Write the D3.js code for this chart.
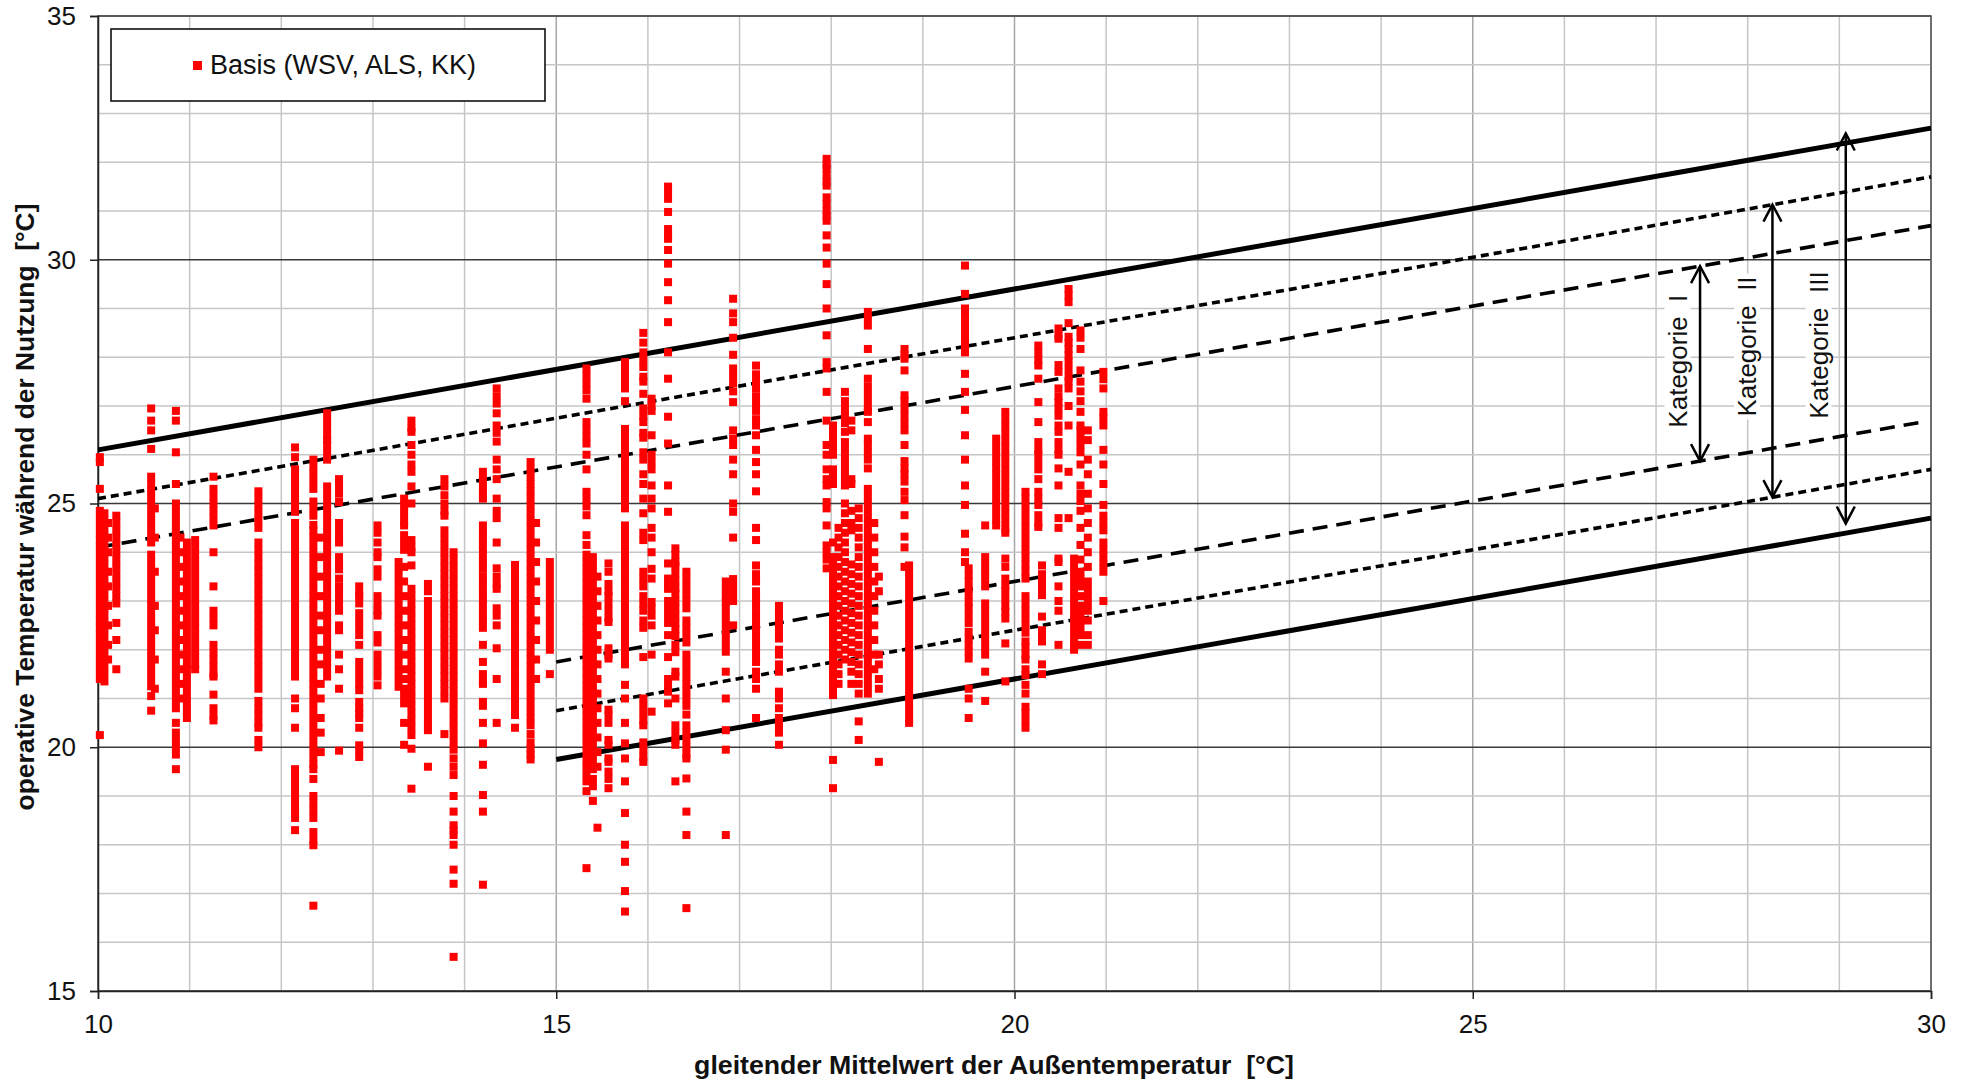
<!DOCTYPE html>
<html><head><meta charset="utf-8">
<script src="https://cdn.jsdelivr.net/npm/d3@7"></script>
<style>
body{margin:0;background:#fff}
text{font-family:"Liberation Sans",Arial,sans-serif}
</style>
</head><body>
<svg id="chart" width="1970" height="1081"></svg>
<script>
// ---------- data ----------
const xTicks = [10, 15, 20, 25, 30];
const yTicks = [15, 20, 25, 30, 35];
const seriesName = "Basis (WSV, ALS, KK)";
const xTitle = "gleitender Mittelwert der Außentemperatur  [°C]";
const yTitle = "operative Temperatur während der Nutzung  [°C]";

// scatter points, grouped in columns (x value, list of y values)
const colX = [10.02,10.07,10.11,10.2,10.58,10.62,10.85,10.9,10.97,11.06,11.26,11.75,12.15,12.35,12.43,12.5,12.63,12.85,13.05,13.28,13.34,13.42,13.6,13.78,13.88,14.2,14.35,14.55,14.72,14.78,14.93,
  15.33,15.4,15.45,15.57,15.75,15.95,16.04,16.22,16.3,16.42,16.85,16.93,17.18,17.43,
  17.95,18.02,18.08,18.15,18.22,18.3,18.4,18.47,18.52,18.8,18.85,19.46,19.5,19.68,19.8,19.9,20.12,20.26,20.3,20.48,20.59,20.65,20.72,20.8,20.97];
const colY = [
 [25.95,25.85,25.3,24.85,24.7,24.55,24.4,24.25,24.1,23.95,23.8,23.65,23.5,23.35,23.2,23.05,22.9,22.75,22.6,22.45,22.3,22.15,22.0,21.85,21.7,21.55,21.4,20.25],
 [24.8,24.65,24.5,24.35,24.2,24.05,23.9,23.75,23.6,23.45,23.3,23.15,23.0,22.85,22.7,22.55,22.4,22.25,22.1,21.95,21.8,21.65,21.5,21.35],
 [24.6,24.3,24.0,23.6,23.3,22.9,22.5,22.1,21.8],
 [24.75,24.6,24.45,24.3,24.15,24.0,23.85,23.7,23.55,23.4,23.25,23.1,22.95,22.55,22.2,21.6],
 [26.95,26.7,26.5,26.12,25.55,25.4,25.25,25.1,24.95,24.8,24.65,24.5,24.35,24.2,23.95,23.8,23.65,23.5,23.35,23.2,23.05,22.9,22.75,22.6,22.45,22.3,22.15,22.0,21.85,21.7,21.55,21.4,21.25,21.05,20.75],
 [24.9,24.3,23.6,22.9,22.4,21.8,21.2],
 [26.9,26.7,26.05,25.4,25.0,24.85,24.7,24.55,24.4,24.25,24.1,23.95,23.8,23.65,23.5,23.35,23.2,23.05,22.9,22.75,22.6,22.45,22.3,22.15,22.0,21.85,21.7,21.55,21.4,21.25,21.1,20.95,20.8,20.5,20.3,20.15,20.0,19.85,19.55],
 [24.3,24.0,23.7,23.4,23.1,22.8,22.5,22.2,21.9,21.6,21.3,21.0],
 [24.2,24.05,23.9,23.75,23.6,23.45,23.3,23.15,23.0,22.85,22.7,22.55,22.4,22.25,22.1,21.95,21.8,21.65,21.5,21.35,21.2,21.05,20.9,20.75,20.6],
 [24.25,24.1,23.95,23.8,23.65,23.5,23.35,23.2,23.05,22.9,22.75,22.6,22.45,22.3,22.15,22.0,21.85,21.7,21.6],
 [25.55,25.3,25.15,25.0,24.85,24.7,24.55,24.0,23.3,22.8,22.65,22.5,22.1,21.95,21.8,21.65,21.5,21.45,21.08,20.8,20.65,20.55],
 [25.25,25.1,24.95,24.8,24.65,24.5,24.2,24.05,23.9,23.75,23.6,23.45,23.3,23.15,23.0,22.85,22.7,22.55,22.4,22.25,22.1,21.95,21.8,21.65,21.5,21.35,21.2,20.95,20.8,20.65,20.5,20.4,20.15,20.0],
 [26.15,25.95,25.7,25.55,25.4,25.25,25.1,24.95,24.83,24.6,24.45,24.3,24.15,24.0,23.85,23.7,23.55,23.4,23.25,23.1,22.95,22.8,22.65,22.5,22.35,22.2,22.05,21.9,21.75,21.6,21.45,21.0,20.8,20.4,19.55,19.4,19.25,19.1,18.95,18.8,18.65,18.55,18.3],
 [25.9,25.75,25.6,25.45,25.3,25.04,24.9,24.75,24.56,24.45,24.3,24.15,24.0,23.85,23.7,23.55,23.4,23.25,23.1,22.95,22.8,22.65,22.5,22.35,22.2,22.05,21.9,21.75,21.6,21.45,21.3,21.15,21.0,20.85,20.7,20.55,20.4,20.25,20.1,19.95,19.8,19.65,19.55,19.35,19.0,18.85,18.7,18.55,18.26,18.1,17.99,16.75],
 [24.3,23.9,23.5,23.1,22.7,22.4,22.0,21.7,21.3,21.0,20.6,20.3,19.9],
 [26.85,26.7,26.55,26.4,26.3,26.2,26.05,25.9,25.35,25.2,25.05,24.9,24.75,24.6,24.45,24.3,24.15,24.0,23.85,23.7,23.55,23.4,23.25,23.1,22.95,22.8,22.65,22.5,22.35,22.2,22.05,21.9,21.75,21.6,21.45],
 [25.5,25.35,25.2,25.03,24.6,24.45,24.3,24.2,23.9,23.75,23.65,23.46,23.3,23.2,23.05,22.9,22.8,22.5,22.4,21.9,21.6,21.2,19.93],
 [23.3,23.15,23.1,22.95,22.75,22.6,22.45,22.3,22.1,21.75,21.6,21.45,21.3,21.17,20.93,20.8,20.7,20.6,20.4,20.04,19.94,19.8],
 [24.55,24.4,24.2,24.0,23.9,23.65,23.5,23.1,22.95,22.8,22.7,22.3,22.15,21.9,21.75,21.6,21.45,21.27],
 [23.8,23.65,23.5,23.35,23.2,23.05,22.9,22.75,22.6,22.45,22.3,22.15,22.0,21.85,21.7,21.55,21.4,21.24],
 [25.1,24.95,24.8,24.65,24.55,24.35,24.2,24.05,23.7,23.4,23.1,22.8,22.5,22.2,21.9,21.6,21.4,21.2,21.05,20.9,20.5,20.05],
 [26.7,26.55,26.47,26.2,26.0,25.8,25.65,25.35,25.0,24.25,24.1,24.0,23.73,23.25,23.1,22.95,22.8,22.65,22.5,22.35,22.2,22.05,21.9,21.75,21.6,21.45,21.3,21.15,21.0,20.85,20.7,20.55,20.4,20.25,19.97,19.15],
 [23.35,23.2,23.0,22.85,22.7,22.55,22.4,22.25,22.1,21.95,21.8,21.65,21.5,21.35,21.2,21.05,20.9,20.75,20.6,20.45,20.35,19.6],
 [25.5,25.35,25.17,25.0,24.85,24.75,24.45,24.3,24.15,24.0,23.85,23.7,23.55,23.4,23.25,23.1,22.95,22.8,22.65,22.5,22.35,22.2,22.05,21.9,21.75,21.6,21.45,21.3,21.15,21.0,20.27],
 [24.0,23.85,23.7,23.55,23.4,23.25,23.1,22.95,22.8,22.65,22.5,22.35,22.2,22.05,21.9,21.75,21.6,21.45,21.3,21.15,21.0,20.85,20.7,20.55,20.4,20.25,20.1,19.95,19.77,19.6,19.43,19.0,18.68,18.4,18.3,18.2,18.0,17.49,17.2,15.7],
 [25.65,25.5,25.35,25.2,25.1,24.55,24.4,24.25,24.1,23.95,23.8,23.66,23.5,23.35,23.2,23.05,22.9,22.75,22.6,22.45,22.1,21.75,21.5,21.35,21.3,20.93,20.85,20.5,20.08,19.64,19.02,18.68,17.18],
 [27.36,27.2,27.05,26.85,26.6,26.45,26.27,25.9,25.7,25.5,25.1,24.85,24.7,24.2,23.67,23.5,23.35,23.25,22.85,22.7,22.5,22.03,21.4,20.5],
 [23.74,23.6,23.45,23.3,23.15,23.0,22.85,22.7,22.55,22.4,22.25,22.1,21.95,21.8,21.65,21.5,21.35,21.2,21.05,20.9,20.75,20.66,20.4],
 [25.85,25.7,25.55,25.4,25.25,25.1,24.95,24.8,24.65,24.5,24.35,24.2,24.05,23.9,23.75,23.6,23.45,23.3,23.15,23.0,22.85,22.7,22.55,22.4,22.25,22.1,21.95,21.8,21.65,21.5,21.35,21.2,21.05,20.9,20.75,20.6,20.45,20.27,20.1,19.97,19.85,19.75],
 [24.6,24.2,23.8,23.4,23.0,22.6,22.2,21.8,21.4],
 [23.8,23.65,23.5,23.35,23.2,23.05,22.9,22.75,22.6,22.45,22.3,22.15,22.0,21.5],
 [27.77,27.62,27.47,27.32,27.15,26.67,26.52,26.37,26.23,26.0,25.7,25.24,25.09,24.94,24.76,24.35,24.15,23.95,23.8,23.65,23.5,23.35,23.2,23.05,22.9,22.75,22.6,22.45,22.3,22.15,22.0,21.85,21.7,21.55,21.4,21.25,21.1,20.95,20.8,20.65,20.5,20.35,20.2,20.05,19.9,19.75,19.6,19.45,19.3,19.1,17.52],
 [23.9,23.75,23.6,23.45,23.3,23.15,23.0,22.85,22.7,22.55,22.4,22.25,22.1,21.95,21.8,21.65,21.5,21.35,21.2,21.05,20.9,20.75,20.6,20.45,20.3,20.15,20.0,19.85,19.7,19.55,19.35,19.2,18.9],
 [23.5,23.2,22.9,22.6,22.3,22.0,21.7,21.4,21.1,20.8,20.5,20.2,19.9,19.6,18.35],
 [23.77,23.6,23.35,23.2,23.1,22.95,22.8,22.65,22.57,22.03,21.9,21.82,20.77,20.66,20.5,20.15,20.05,19.77,19.7,19.5,19.35,19.16],
 [27.9,27.75,27.6,27.45,27.36,27.1,26.53,26.4,26.25,26.1,25.95,25.8,25.65,25.5,25.35,25.2,25.05,24.9,24.55,24.4,24.25,24.1,23.95,23.87,23.72,23.57,23.42,23.27,23.12,22.97,22.82,22.67,22.52,22.37,22.22,22.07,21.92,21.77,21.7,21.28,21.0,20.5,20.08,19.77,19.3,18.65,18.0,17.65,17.05,16.63],
 [28.5,28.3,28.1,27.95,27.8,27.6,27.5,27.25,26.95,26.8,26.67,26.45,26.35,26.05,25.9,25.6,25.4,25.1,24.8,24.4,24.25,23.6,23.45,23.3,23.1,22.95,22.8,22.6,22.45,21.85,21.0,20.85,20.7,20.55,20.45,20.1,19.95,19.8,19.7],
 [27.15,27.0,26.9,26.4,26.0,25.85,25.7,25.37,25.1,24.9,24.5,24.3,24.0,23.66,23.46,22.98,22.85,22.7,22.5,21.9,20.73],
 [31.5,31.38,31.25,30.98,30.63,30.5,30.43,30.2,29.92,29.54,29.17,28.72,28.1,27.56,26.78,26.23,25.37,24.83,23.77,23.46,23.35,23.25,23.0,22.85,22.7,22.55,22.3,21.85,21.4,21.27,21.14,20.9],
 [24.08,23.95,23.8,23.72,23.57,23.42,23.27,23.15,23.0,22.85,22.7,22.55,22.42,22.28,22.1,21.95,21.55,21.45,21.0,20.45,20.3,20.15,20.05,19.3],
 [23.6,23.45,23.3,23.15,23.0,22.85,22.6,22.45,22.3,22.15,21.9,21.75,21.6,21.45,21.3,21.15,21.0,20.85,20.67,20.45,20.3,20.15,20.0,19.85,19.77,19.36,18.68,18.2,16.7],
 [23.4,23.25,23.1,22.98,22.85,22.7,22.55,22.4,22.25,22.1,21.96,21.55,21.0,20.35,19.95,18.2],
 [29.2,28.9,28.72,28.4,28.05,27.77,27.62,27.47,27.3,27.08,26.5,26.33,26.2,25.9,25.6,25.0,24.83,24.3,23.45,23.3,23.15,23.0,22.5],
 [27.83,27.65,27.5,27.36,27.2,27.05,26.9,26.73,26.6,26.4,26.1,25.85,25.6,25.25,24.5,24.25,23.73,23.55,23.4,23.2,23.05,22.9,22.75,22.6,22.45,22.3,22.15,22.0,21.85,21.75,21.55,21.4,21.2,20.6],
 [22.9,22.75,22.6,22.45,22.3,22.23,22.0,21.9,21.7,21.55,21.14,21.0,20.8,20.6,20.45,20.3,20.05],
 [32.07,31.95,31.87,31.73,31.6,31.52,31.28,31.15,31.0,30.9,30.8,30.5,30.25,29.92,29.5,29.0,28.45,27.9,27.77,27.29,26.7,26.2,26.0,25.7,25.5,25.37,25.03,24.9,24.55,24.14,24.0,23.85,23.67],
 [26.6,26.45,26.3,26.15,26.0,25.7,25.55,25.4,24.2,23.9,23.75,23.6,23.45,23.3,23.15,23.0,22.85,22.7,22.55,22.4,22.25,22.1,21.95,21.8,21.65,21.5,21.35,21.2,21.07,19.74,19.16],
 [24.5,24.3,24.1,23.9,23.7,23.5,23.3,23.1,22.9,22.7,22.5,22.3,22.1,21.9,21.7,21.5,21.3],
 [27.29,27.1,26.95,26.8,26.65,26.47,26.26,26.1,25.95,25.8,25.65,25.5,25.37,25.0,24.8,24.6,24.4,24.2,24.0,23.8,23.6,23.4,23.2,23.0,22.8,22.6,22.4,22.2,22.0,21.8],
 [26.7,26.5,25.5,25.4,24.85,24.6,24.45,23.75,23.55,23.35,23.15,22.95,22.75,22.55,22.35,22.15,21.95,21.75,21.55,21.3],
 [24.9,24.7,24.5,24.3,24.1,23.9,23.7,23.5,23.3,23.1,22.9,22.7,22.5,22.3,22.1,21.9,21.7,21.5,21.3,21.1,20.53,20.15],
 [28.93,28.8,28.65,28.17,27.56,27.4,27.25,27.1,26.95,26.88,26.67,26.33,26.2,26.05,25.9,25.72,25.3,25.15,25.0,24.85,24.7,24.55,24.4,24.25,24.1,23.95,23.8,23.65,23.5,23.35,23.2,23.05,22.9,22.75,22.6,22.45,22.3,22.15,22.0,21.85,21.7,21.55,21.4,21.25,21.1],
 [24.6,24.3,24.0,23.7,23.4,23.1,22.8,22.5,22.2,21.9,21.6],
 [23.5,23.2,21.9,21.7,21.4,21.2,19.7],
 [28.17,28.05,27.97,27.73,27.22,27.1,26.95,26.8,26.65,26.5,26.2,25.87,25.72,25.6,25.45,25.24,25.07,24.76,24.32,24.1,23.7],
 [23.73,23.6,23.45,23.3,23.15,23.0,22.85,22.7,22.55,22.4,22.25,22.1,21.95,21.8,21.65,21.5,21.35,21.2,21.05,20.9,20.75,20.6,20.5],
 [29.88,29.3,29.0,28.85,28.7,28.55,28.4,28.3,28.25,28.1,27.66,27.29,26.92,26.4,25.9,25.37,24.97,24.38,24.0,23.8],
 [23.67,23.53,23.4,23.25,23.12,22.98,22.85,22.7,22.55,22.37,22.23,22.1,21.96,21.82,21.2,21.0,20.6],
 [24.55,23.9,23.75,23.6,23.45,23.3,22.95,22.8,22.65,22.5,22.35,22.2,22.05,21.9,21.55,20.95],
 [26.33,26.18,26.03,25.88,25.73,25.58,25.43,25.28,25.13,24.98,24.83,24.68,24.55],
 [26.88,26.73,26.58,26.43,26.28,26.13,25.98,25.83,25.68,25.53,25.38,25.23,25.08,24.93,24.78,24.63,24.48,24.4,23.87,23.7,23.46,23.32,23.2,23.05,22.9,22.78,22.64,22.13,21.35],
 [25.24,25.1,24.95,24.8,24.65,24.5,24.35,24.2,24.05,23.9,23.75,23.6,23.46,23.1,22.95,22.8,22.65,22.5,22.35,22.17,22.05,21.9,21.8,21.6,21.48,21.28,21.1,20.83,20.7,20.55,20.4],
 [28.24,28.1,27.95,27.83,27.56,27.08,26.67,26.26,26.1,26.0,25.85,25.7,25.5,25.24,25.1,24.97,24.76,24.6,24.52],
 [23.73,23.55,23.4,23.25,23.12,22.68,22.4,22.25,22.17,21.7,21.5],
 [28.59,28.45,28.38,27.84,27.7,27.36,27.2,27.08,26.95,26.8,26.6,26.47,26.26,26.1,26.0,25.72,25.37,24.7,24.5,23.87,23.8,23.3,23.0,22.8,22.1],
 [29.4,29.27,29.13,28.7,28.42,28.3,28.17,28.04,27.9,27.75,27.6,27.5,27.36,27.0,26.6,25.65,24.7],
 [23.87,23.72,23.57,23.42,23.27,23.12,22.97,22.82,22.67,22.52,22.37,22.22,22.07,22.0],
 [28.55,28.4,28.17,27.73,27.5,27.3,27.1,26.88,26.6,26.5,26.35,26.2,26.05,25.8,25.37,25.2,25.05,24.85,24.5,24.15,23.85,23.6,23.45,23.3,23.1,22.9,22.75,22.6,22.45,22.3,22.1],
 [26.5,26.3,25.9,25.6,25.2,24.9,24.6,24.3,24.0,23.7,23.4,23.25,23.1,22.95,22.8,22.6,22.3,22.1],
 [27.7,27.55,27.36,26.88,26.75,26.6,26.1,25.8,25.4,24.97,24.75,24.6,24.45,24.2,24.05,23.9,23.75,23.6,23.0]
];

// comfort limit lines (start x, start y, end x, end y, style)
const limX0 = [10, 15, 10, 15, 10, 15];
const limY0 = [26.1, 19.75, 25.1, 20.75, 24.1, 21.75];
const limX1 = [30, 30, 30, 30, 30, 29.9];
const limY1 = [32.7, 24.7, 31.7, 25.7, 30.7, 26.67];
const limStyle = ["solid", "solid", "dotted", "dotted", "dashed", "dashed"];

// category arrows
const katLabels = ["Kategorie  I", "Kategorie  II", "Kategorie  III"];
const katX = [27.48, 28.27, 29.07];
const katTop = [29.87, 31.13, 32.59];
const katBottom = [25.87, 25.13, 24.59];
const katLabelX = [27.23, 27.99, 28.77];
const katLabelY = [27.92, 28.22, 28.25];

// ---------- drawing ----------
const W = 1970, H = 1081;
const M = {left: 98, top: 16, right: 39, bottom: 90};
const pw = W - M.left - M.right, ph = H - M.top - M.bottom;
const svg = d3.select("#chart");
svg.append("rect").attr("width", W).attr("height", H).attr("fill", "#fff");
const g = svg.append("g").attr("transform", `translate(${M.left},${M.top})`);
const x = d3.scaleLinear().domain([10, 30]).range([0, pw]);
const y = d3.scaleLinear().domain([15, 35]).range([ph, 0]);

// grid
const minor = d3.range(10, 31, 1);
const minorY = d3.range(15, 36, 1);
g.append("g").selectAll("line").data(minor).join("line")
  .attr("x1", d => x(d)).attr("x2", d => x(d)).attr("y1", 0).attr("y2", ph)
  .attr("stroke", d => d % 5 === 0 ? "#a6a6a6" : "#c6c6c6").attr("stroke-width", 1.5);
g.append("g").selectAll("line").data(minorY).join("line")
  .attr("x1", 0).attr("x2", pw).attr("y1", d => y(d)).attr("y2", d => y(d))
  .attr("stroke", d => d % 5 === 0 ? "#3a3a3a" : "#c6c6c6").attr("stroke-width", d => d % 5 === 0 ? 1.3 : 1.5);
g.append("rect").attr("width", pw).attr("height", ph).attr("fill", "none")
  .attr("stroke", "#555").attr("stroke-width", 1.5);

// axes
const ya = g.append("g").call(d3.axisLeft(y).tickValues(yTicks).tickSize(8).tickPadding(14).tickFormat(d3.format("d")));
const xa = g.append("g").attr("transform", `translate(0,${ph})`)
  .call(d3.axisBottom(x).tickValues(xTicks).tickSize(8).tickPadding(16).tickFormat(d3.format("d")));
[ya, xa].forEach(a => {
  a.select(".domain").attr("stroke", "#222").attr("stroke-width", 1.5);
  a.selectAll(".tick line").attr("stroke", "#222").attr("stroke-width", 1.5);
  a.selectAll("text").attr("font-size", 26).attr("fill", "#111")
    .attr("font-family", '"Liberation Sans",Arial,sans-serif');
});

// limit lines
const styles = {
  solid: {w: 5, dash: null},
  dotted: {w: 3.6, dash: "8,5"},
  dashed: {w: 3.6, dash: "15,9"}
};
g.append("g").selectAll("line").data(limX0.map((d, i) => i)).join("line")
  .attr("x1", i => x(limX0[i])).attr("y1", i => y(limY0[i]))
  .attr("x2", i => x(limX1[i])).attr("y2", i => y(limY1[i]))
  .attr("stroke", "#000").attr("stroke-width", i => styles[limStyle[i]].w)
  .attr("stroke-dasharray", i => styles[limStyle[i]].dash);

// points
const pts = [];
colX.forEach((cx, i) => colY[i].forEach(v => pts.push([cx, v])));
const s = 8;
g.append("g").selectAll("rect").data(pts).join("rect")
  .attr("x", d => x(d[0]) - s / 2).attr("y", d => y(d[1]) - s / 2)
  .attr("width", s).attr("height", s).attr("fill", "#ff0000");

// category labels & arrows
const kg = g.append("g");
katLabels.forEach((lab, i) => {
  const lx = x(katLabelX[i]), ly = y(katLabelY[i]);
  const t = kg.append("text").attr("transform", `translate(${lx},${ly}) rotate(-90)`)
    .attr("text-anchor", "middle").attr("dy", "0.36em").attr("font-size", 26)
    .attr("fill", "#111").style("white-space", "pre").text(lab);
  const bb = t.node().getBBox();
  kg.insert("rect", "text").attr("transform", `translate(${lx},${ly}) rotate(-90)`)
    .attr("x", bb.x - 3).attr("y", bb.y + 2).attr("width", bb.width + 6).attr("height", bb.height - 4)
    .attr("fill", "#fff");
  const ax = x(katX[i]), at = y(katTop[i]), ab = y(katBottom[i]);
  kg.append("line").attr("x1", ax).attr("x2", ax).attr("y1", at).attr("y2", ab)
    .attr("stroke", "#000").attr("stroke-width", 2.5);
  kg.append("path").attr("d", `M${ax - 9},${at + 17}L${ax},${at}L${ax + 9},${at + 17}`)
    .attr("fill", "none").attr("stroke", "#000").attr("stroke-width", 2.5);
  kg.append("path").attr("d", `M${ax - 9},${ab - 17}L${ax},${ab}L${ax + 9},${ab - 17}`)
    .attr("fill", "none").attr("stroke", "#000").attr("stroke-width", 2.5);
});

// legend
const lg = g.append("g");
lg.append("rect").attr("x", 13).attr("y", 13).attr("width", 434).attr("height", 72)
  .attr("fill", "#fff").attr("stroke", "#000").attr("stroke-width", 1.5);
lg.append("rect").attr("x", 95).attr("y", 45).attr("width", 9).attr("height", 9).attr("fill", "#ff0000");
lg.append("text").attr("x", 112).attr("y", 58).attr("font-size", 27).attr("fill", "#111").text(seriesName);

// axis titles
svg.append("text").attr("x", 994).attr("y", 1074).attr("text-anchor", "middle")
  .attr("font-size", 26.7).attr("font-weight", "bold").attr("fill", "#111").style("white-space", "pre").text(xTitle);
svg.append("text").attr("transform", "translate(34,507) rotate(-90)").attr("text-anchor", "middle")
  .attr("font-size", 26.4).attr("font-weight", "bold").attr("fill", "#111").style("white-space", "pre").text(yTitle);
</script>
</body></html>
